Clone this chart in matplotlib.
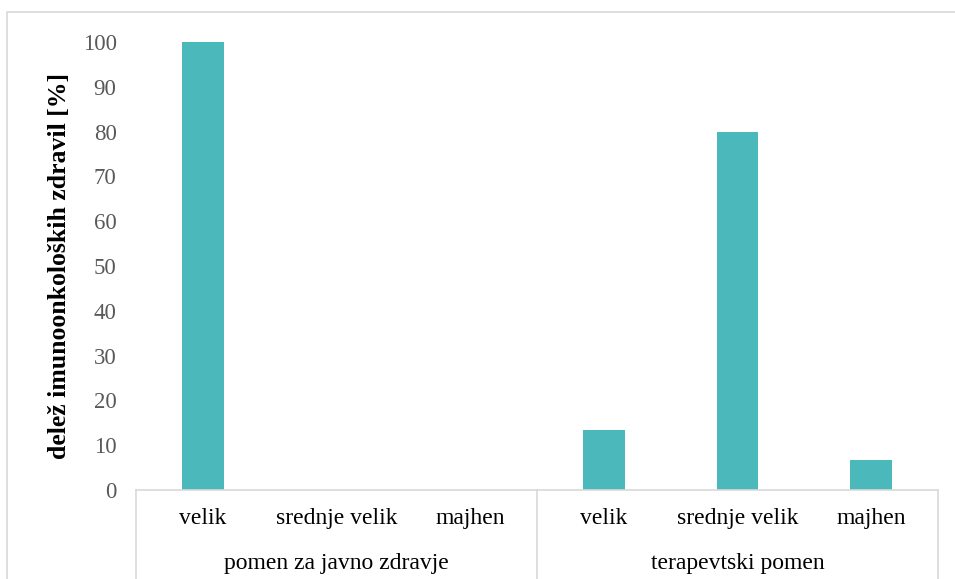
import matplotlib.pyplot as plt
from matplotlib.patches import Rectangle

# deleži imunoonkoloških zdravil po kategorijah
groups = ['pomen za javno zdravje', 'terapevtski pomen']
categories = ['velik', 'srednje velik', 'majhen']
javno_zdravje = [100, 0, 0]
terapevtski = [13.3, 80, 6.7]

values = javno_zdravje + terapevtski
labels = categories * len(groups)

plt.rcParams['font.family'] = ['Liberation Serif', 'DejaVu Serif']

fig = plt.figure(figsize=(9.55, 5.79), dpi=100)
W, H = 955, 579

# light frame around the chart area
fig.patches.append(Rectangle((7 / W, 0 - 0.01), 1.0, 1 - 12 / H + 0.01,
                             transform=fig.transFigure, fill=False,
                             edgecolor='#d9d9d9', linewidth=1.2))

ax = fig.add_axes([136 / W, 1 - 490 / H, 802 / W, 448 / H])

x = list(range(len(values)))
ax.bar(x, values, width=0.31, color='#4bb8bb')

ax.set_xlim(-0.5, len(values) - 0.5)
ax.set_ylim(0, 100)
ax.set_yticks(range(0, 101, 10))
ax.tick_params(axis='y', length=0, pad=14, labelsize=16.5, labelcolor='#595959')
ax.set_xticks(x)
ax.set_xticklabels(labels)
ax.tick_params(axis='x', length=0, pad=13, labelsize=17, labelcolor='black')

for side in ['top', 'right', 'left']:
    ax.spines[side].set_visible(False)
ax.spines['bottom'].set_color('#d9d9d9')
ax.spines['bottom'].set_linewidth(1.2)

ax.set_ylabel('delež imunoonkoloških zdravil [%]', fontsize=18.5,
              fontweight='bold', labelpad=8)

# group labels and separators under the category axis
n = len(categories)
for i, g in enumerate(groups):
    ax.text((i * n + (n - 1) / 2 + 0.5) / len(values), -0.163, g,
            transform=ax.transAxes, ha='center', va='center', fontsize=17)
for i in range(len(groups) + 1):
    xs = i * n / len(values)
    ax.plot([xs, xs], [0, -0.2], transform=ax.transAxes, color='#d9d9d9',
            linewidth=1.2, clip_on=False)

fig.savefig('out.png', dpi=100)
